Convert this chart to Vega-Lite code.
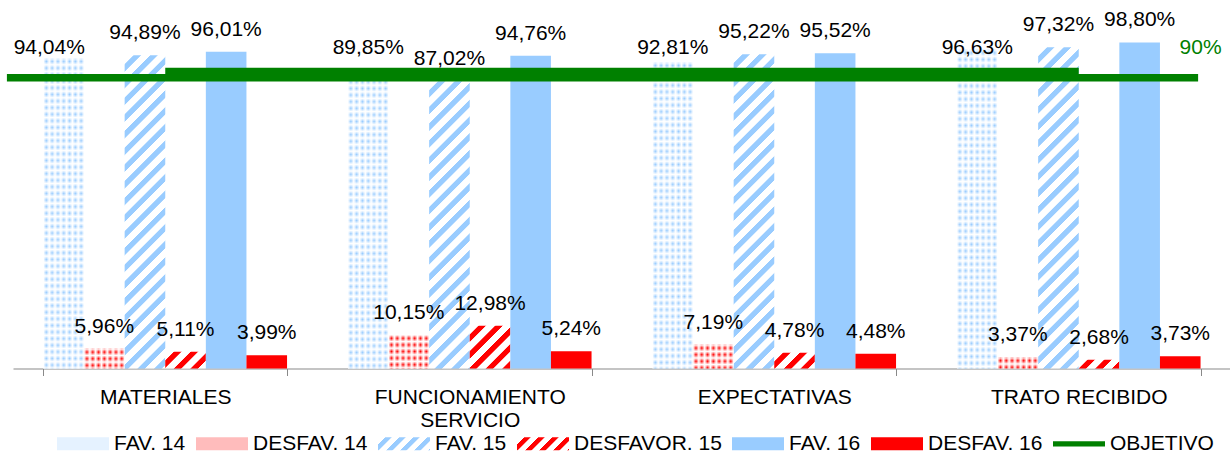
{
  "$schema": "https://vega.github.io/schema/vega-lite/v6.json",
  "width": 1218,
  "height": 330,
  "autosize": {"type": "none"},
  "padding": {"left": 13, "top": 38.5, "right": 0, "bottom": 86.5},
  "background": "white",
  "config": {
    "font": "Liberation Sans",
    "view": {"stroke": null},
    "locale": {"number": {"decimal": ",", "thousands": ".", "grouping": [3], "currency": ["", " €"]}}
  },
  "params": [
    {"name": "hb", "value": [
      {"offset":0,"color":"#ffffff"},{"offset":0.02,"color":"#ffffff"},{"offset":0.022,"color":"#99ccff"},{"offset":0.038,"color":"#99ccff"},
      {"offset":0.04,"color":"#ffffff"},{"offset":0.06,"color":"#ffffff"},{"offset":0.062,"color":"#99ccff"},{"offset":0.078,"color":"#99ccff"},
      {"offset":0.08,"color":"#ffffff"},{"offset":0.1,"color":"#ffffff"},{"offset":0.102,"color":"#99ccff"},{"offset":0.118,"color":"#99ccff"},
      {"offset":0.12,"color":"#ffffff"},{"offset":0.14,"color":"#ffffff"},{"offset":0.142,"color":"#99ccff"},{"offset":0.158,"color":"#99ccff"},
      {"offset":0.16,"color":"#ffffff"},{"offset":0.18,"color":"#ffffff"},{"offset":0.182,"color":"#99ccff"},{"offset":0.198,"color":"#99ccff"},
      {"offset":0.2,"color":"#ffffff"},{"offset":0.22,"color":"#ffffff"},{"offset":0.222,"color":"#99ccff"},{"offset":0.238,"color":"#99ccff"},
      {"offset":0.24,"color":"#ffffff"},{"offset":0.26,"color":"#ffffff"},{"offset":0.262,"color":"#99ccff"},{"offset":0.278,"color":"#99ccff"},
      {"offset":0.28,"color":"#ffffff"},{"offset":0.3,"color":"#ffffff"},{"offset":0.302,"color":"#99ccff"},{"offset":0.318,"color":"#99ccff"},
      {"offset":0.32,"color":"#ffffff"},{"offset":0.34,"color":"#ffffff"},{"offset":0.342,"color":"#99ccff"},{"offset":0.358,"color":"#99ccff"},
      {"offset":0.36,"color":"#ffffff"},{"offset":0.38,"color":"#ffffff"},{"offset":0.382,"color":"#99ccff"},{"offset":0.398,"color":"#99ccff"},
      {"offset":0.4,"color":"#ffffff"},{"offset":0.42,"color":"#ffffff"},{"offset":0.422,"color":"#99ccff"},{"offset":0.438,"color":"#99ccff"},
      {"offset":0.44,"color":"#ffffff"},{"offset":0.46,"color":"#ffffff"},{"offset":0.462,"color":"#99ccff"},{"offset":0.478,"color":"#99ccff"},
      {"offset":0.48,"color":"#ffffff"},{"offset":0.5,"color":"#ffffff"},{"offset":0.502,"color":"#99ccff"},{"offset":0.518,"color":"#99ccff"},
      {"offset":0.52,"color":"#ffffff"},{"offset":0.54,"color":"#ffffff"},{"offset":0.542,"color":"#99ccff"},{"offset":0.558,"color":"#99ccff"},
      {"offset":0.56,"color":"#ffffff"},{"offset":0.58,"color":"#ffffff"},{"offset":0.582,"color":"#99ccff"},{"offset":0.598,"color":"#99ccff"},
      {"offset":0.6,"color":"#ffffff"},{"offset":0.62,"color":"#ffffff"},{"offset":0.622,"color":"#99ccff"},{"offset":0.638,"color":"#99ccff"},
      {"offset":0.64,"color":"#ffffff"},{"offset":0.66,"color":"#ffffff"},{"offset":0.662,"color":"#99ccff"},{"offset":0.678,"color":"#99ccff"},
      {"offset":0.68,"color":"#ffffff"},{"offset":0.7,"color":"#ffffff"},{"offset":0.702,"color":"#99ccff"},{"offset":0.718,"color":"#99ccff"},
      {"offset":0.72,"color":"#ffffff"},{"offset":0.74,"color":"#ffffff"},{"offset":0.742,"color":"#99ccff"},{"offset":0.758,"color":"#99ccff"},
      {"offset":0.76,"color":"#ffffff"},{"offset":0.78,"color":"#ffffff"},{"offset":0.782,"color":"#99ccff"},{"offset":0.798,"color":"#99ccff"},
      {"offset":0.8,"color":"#ffffff"},{"offset":0.82,"color":"#ffffff"},{"offset":0.822,"color":"#99ccff"},{"offset":0.838,"color":"#99ccff"},
      {"offset":0.84,"color":"#ffffff"},{"offset":0.86,"color":"#ffffff"},{"offset":0.862,"color":"#99ccff"},{"offset":0.878,"color":"#99ccff"},
      {"offset":0.88,"color":"#ffffff"},{"offset":0.9,"color":"#ffffff"},{"offset":0.902,"color":"#99ccff"},{"offset":0.918,"color":"#99ccff"},
      {"offset":0.92,"color":"#ffffff"},{"offset":0.94,"color":"#ffffff"},{"offset":0.942,"color":"#99ccff"},{"offset":0.958,"color":"#99ccff"},
      {"offset":0.96,"color":"#ffffff"},{"offset":0.98,"color":"#ffffff"},{"offset":0.982,"color":"#99ccff"},{"offset":0.998,"color":"#99ccff"}
    ]},
    {"name": "hr", "value": [
      {"offset":0,"color":"#ffffff"},{"offset":0.02,"color":"#ffffff"},{"offset":0.022,"color":"#ff0000"},{"offset":0.038,"color":"#ff0000"},
      {"offset":0.04,"color":"#ffffff"},{"offset":0.06,"color":"#ffffff"},{"offset":0.062,"color":"#ff0000"},{"offset":0.078,"color":"#ff0000"},
      {"offset":0.08,"color":"#ffffff"},{"offset":0.1,"color":"#ffffff"},{"offset":0.102,"color":"#ff0000"},{"offset":0.118,"color":"#ff0000"},
      {"offset":0.12,"color":"#ffffff"},{"offset":0.14,"color":"#ffffff"},{"offset":0.142,"color":"#ff0000"},{"offset":0.158,"color":"#ff0000"},
      {"offset":0.16,"color":"#ffffff"},{"offset":0.18,"color":"#ffffff"},{"offset":0.182,"color":"#ff0000"},{"offset":0.198,"color":"#ff0000"},
      {"offset":0.2,"color":"#ffffff"},{"offset":0.22,"color":"#ffffff"},{"offset":0.222,"color":"#ff0000"},{"offset":0.238,"color":"#ff0000"},
      {"offset":0.24,"color":"#ffffff"},{"offset":0.26,"color":"#ffffff"},{"offset":0.262,"color":"#ff0000"},{"offset":0.278,"color":"#ff0000"},
      {"offset":0.28,"color":"#ffffff"},{"offset":0.3,"color":"#ffffff"},{"offset":0.302,"color":"#ff0000"},{"offset":0.318,"color":"#ff0000"},
      {"offset":0.32,"color":"#ffffff"},{"offset":0.34,"color":"#ffffff"},{"offset":0.342,"color":"#ff0000"},{"offset":0.358,"color":"#ff0000"},
      {"offset":0.36,"color":"#ffffff"},{"offset":0.38,"color":"#ffffff"},{"offset":0.382,"color":"#ff0000"},{"offset":0.398,"color":"#ff0000"},
      {"offset":0.4,"color":"#ffffff"},{"offset":0.42,"color":"#ffffff"},{"offset":0.422,"color":"#ff0000"},{"offset":0.438,"color":"#ff0000"},
      {"offset":0.44,"color":"#ffffff"},{"offset":0.46,"color":"#ffffff"},{"offset":0.462,"color":"#ff0000"},{"offset":0.478,"color":"#ff0000"},
      {"offset":0.48,"color":"#ffffff"},{"offset":0.5,"color":"#ffffff"},{"offset":0.502,"color":"#ff0000"},{"offset":0.518,"color":"#ff0000"},
      {"offset":0.52,"color":"#ffffff"},{"offset":0.54,"color":"#ffffff"},{"offset":0.542,"color":"#ff0000"},{"offset":0.558,"color":"#ff0000"},
      {"offset":0.56,"color":"#ffffff"},{"offset":0.58,"color":"#ffffff"},{"offset":0.582,"color":"#ff0000"},{"offset":0.598,"color":"#ff0000"},
      {"offset":0.6,"color":"#ffffff"},{"offset":0.62,"color":"#ffffff"},{"offset":0.622,"color":"#ff0000"},{"offset":0.638,"color":"#ff0000"},
      {"offset":0.64,"color":"#ffffff"},{"offset":0.66,"color":"#ffffff"},{"offset":0.662,"color":"#ff0000"},{"offset":0.678,"color":"#ff0000"},
      {"offset":0.68,"color":"#ffffff"},{"offset":0.7,"color":"#ffffff"},{"offset":0.702,"color":"#ff0000"},{"offset":0.718,"color":"#ff0000"},
      {"offset":0.72,"color":"#ffffff"},{"offset":0.74,"color":"#ffffff"},{"offset":0.742,"color":"#ff0000"},{"offset":0.758,"color":"#ff0000"},
      {"offset":0.76,"color":"#ffffff"},{"offset":0.78,"color":"#ffffff"},{"offset":0.782,"color":"#ff0000"},{"offset":0.798,"color":"#ff0000"},
      {"offset":0.8,"color":"#ffffff"},{"offset":0.82,"color":"#ffffff"},{"offset":0.822,"color":"#ff0000"},{"offset":0.838,"color":"#ff0000"},
      {"offset":0.84,"color":"#ffffff"},{"offset":0.86,"color":"#ffffff"},{"offset":0.862,"color":"#ff0000"},{"offset":0.878,"color":"#ff0000"},
      {"offset":0.88,"color":"#ffffff"},{"offset":0.9,"color":"#ffffff"},{"offset":0.902,"color":"#ff0000"},{"offset":0.918,"color":"#ff0000"},
      {"offset":0.92,"color":"#ffffff"},{"offset":0.94,"color":"#ffffff"},{"offset":0.942,"color":"#ff0000"},{"offset":0.958,"color":"#ff0000"},
      {"offset":0.96,"color":"#ffffff"},{"offset":0.98,"color":"#ffffff"},{"offset":0.982,"color":"#ff0000"},{"offset":0.998,"color":"#ff0000"}
    ]},
    {"name": "db", "value": [
      {"offset":0,"color":"#ffffff"},{"offset":0.0714,"color":"#99ccff"},{"offset":0.1429,"color":"#ffffff"},{"offset":0.2143,"color":"#99ccff"},
      {"offset":0.2857,"color":"#ffffff"},{"offset":0.3571,"color":"#99ccff"},{"offset":0.4286,"color":"#ffffff"},{"offset":0.5,"color":"#99ccff"},
      {"offset":0.5714,"color":"#ffffff"},{"offset":0.6429,"color":"#99ccff"},{"offset":0.7143,"color":"#ffffff"},{"offset":0.7857,"color":"#99ccff"},
      {"offset":0.8571,"color":"#ffffff"},{"offset":0.9286,"color":"#99ccff"},{"offset":1,"color":"#ffffff"}
    ]},
    {"name": "dr", "value": [
      {"offset":0,"color":"#ffffff"},{"offset":0.0714,"color":"#ff0000"},{"offset":0.1429,"color":"#ffffff"},{"offset":0.2143,"color":"#ff0000"},
      {"offset":0.2857,"color":"#ffffff"},{"offset":0.3571,"color":"#ff0000"},{"offset":0.4286,"color":"#ffffff"},{"offset":0.5,"color":"#ff0000"},
      {"offset":0.5714,"color":"#ffffff"},{"offset":0.6429,"color":"#ff0000"},{"offset":0.7143,"color":"#ffffff"},{"offset":0.7857,"color":"#ff0000"},
      {"offset":0.8571,"color":"#ffffff"},{"offset":0.9286,"color":"#ff0000"},{"offset":1,"color":"#ffffff"}
    ]},
    {"name": "ov", "value": [
      {"offset":0,"color":"#ffffff"},{"offset":0.01,"color":"rgba(255,255,255,0)"},{"offset":0.02,"color":"#ffffff"},{"offset":0.03,"color":"rgba(255,255,255,0)"},
      {"offset":0.04,"color":"#ffffff"},{"offset":0.05,"color":"rgba(255,255,255,0)"},{"offset":0.06,"color":"#ffffff"},{"offset":0.07,"color":"rgba(255,255,255,0)"},
      {"offset":0.08,"color":"#ffffff"},{"offset":0.09,"color":"rgba(255,255,255,0)"},{"offset":0.1,"color":"#ffffff"},{"offset":0.11,"color":"rgba(255,255,255,0)"},
      {"offset":0.12,"color":"#ffffff"},{"offset":0.13,"color":"rgba(255,255,255,0)"},{"offset":0.14,"color":"#ffffff"},{"offset":0.15,"color":"rgba(255,255,255,0)"},
      {"offset":0.16,"color":"#ffffff"},{"offset":0.17,"color":"rgba(255,255,255,0)"},{"offset":0.18,"color":"#ffffff"},{"offset":0.19,"color":"rgba(255,255,255,0)"},
      {"offset":0.2,"color":"#ffffff"},{"offset":0.21,"color":"rgba(255,255,255,0)"},{"offset":0.22,"color":"#ffffff"},{"offset":0.23,"color":"rgba(255,255,255,0)"},
      {"offset":0.24,"color":"#ffffff"},{"offset":0.25,"color":"rgba(255,255,255,0)"},{"offset":0.26,"color":"#ffffff"},{"offset":0.27,"color":"rgba(255,255,255,0)"},
      {"offset":0.28,"color":"#ffffff"},{"offset":0.29,"color":"rgba(255,255,255,0)"},{"offset":0.3,"color":"#ffffff"},{"offset":0.31,"color":"rgba(255,255,255,0)"},
      {"offset":0.32,"color":"#ffffff"},{"offset":0.33,"color":"rgba(255,255,255,0)"},{"offset":0.34,"color":"#ffffff"},{"offset":0.35,"color":"rgba(255,255,255,0)"},
      {"offset":0.36,"color":"#ffffff"},{"offset":0.37,"color":"rgba(255,255,255,0)"},{"offset":0.38,"color":"#ffffff"},{"offset":0.39,"color":"rgba(255,255,255,0)"},
      {"offset":0.4,"color":"#ffffff"},{"offset":0.41,"color":"rgba(255,255,255,0)"},{"offset":0.42,"color":"#ffffff"},{"offset":0.43,"color":"rgba(255,255,255,0)"},
      {"offset":0.44,"color":"#ffffff"},{"offset":0.45,"color":"rgba(255,255,255,0)"},{"offset":0.46,"color":"#ffffff"},{"offset":0.47,"color":"rgba(255,255,255,0)"},
      {"offset":0.48,"color":"#ffffff"},{"offset":0.49,"color":"rgba(255,255,255,0)"},{"offset":0.5,"color":"#ffffff"},{"offset":0.51,"color":"rgba(255,255,255,0)"},
      {"offset":0.52,"color":"#ffffff"},{"offset":0.53,"color":"rgba(255,255,255,0)"},{"offset":0.54,"color":"#ffffff"},{"offset":0.55,"color":"rgba(255,255,255,0)"},
      {"offset":0.56,"color":"#ffffff"},{"offset":0.57,"color":"rgba(255,255,255,0)"},{"offset":0.58,"color":"#ffffff"},{"offset":0.59,"color":"rgba(255,255,255,0)"},
      {"offset":0.6,"color":"#ffffff"},{"offset":0.61,"color":"rgba(255,255,255,0)"},{"offset":0.62,"color":"#ffffff"},{"offset":0.63,"color":"rgba(255,255,255,0)"},
      {"offset":0.64,"color":"#ffffff"},{"offset":0.65,"color":"rgba(255,255,255,0)"},{"offset":0.66,"color":"#ffffff"},{"offset":0.67,"color":"rgba(255,255,255,0)"},
      {"offset":0.68,"color":"#ffffff"},{"offset":0.69,"color":"rgba(255,255,255,0)"},{"offset":0.7,"color":"#ffffff"},{"offset":0.71,"color":"rgba(255,255,255,0)"},
      {"offset":0.72,"color":"#ffffff"},{"offset":0.73,"color":"rgba(255,255,255,0)"},{"offset":0.74,"color":"#ffffff"},{"offset":0.75,"color":"rgba(255,255,255,0)"},
      {"offset":0.76,"color":"#ffffff"},{"offset":0.77,"color":"rgba(255,255,255,0)"},{"offset":0.78,"color":"#ffffff"},{"offset":0.79,"color":"rgba(255,255,255,0)"},
      {"offset":0.8,"color":"#ffffff"},{"offset":0.81,"color":"rgba(255,255,255,0)"},{"offset":0.82,"color":"#ffffff"},{"offset":0.83,"color":"rgba(255,255,255,0)"},
      {"offset":0.84,"color":"#ffffff"},{"offset":0.85,"color":"rgba(255,255,255,0)"},{"offset":0.86,"color":"#ffffff"},{"offset":0.87,"color":"rgba(255,255,255,0)"},
      {"offset":0.88,"color":"#ffffff"},{"offset":0.89,"color":"rgba(255,255,255,0)"},{"offset":0.9,"color":"#ffffff"},{"offset":0.91,"color":"rgba(255,255,255,0)"},
      {"offset":0.92,"color":"#ffffff"},{"offset":0.93,"color":"rgba(255,255,255,0)"},{"offset":0.94,"color":"#ffffff"},{"offset":0.95,"color":"rgba(255,255,255,0)"},
      {"offset":0.96,"color":"#ffffff"},{"offset":0.97,"color":"rgba(255,255,255,0)"},{"offset":0.98,"color":"#ffffff"},{"offset":0.99,"color":"rgba(255,255,255,0)"},
      {"offset":1,"color":"#ffffff"}
    ]}
  ],
  "datasets": {
    "barras": [
      {"cat": "MATERIALES", "serie": "FAV. 14", "valor": 0.9404},
      {"cat": "MATERIALES", "serie": "DESFAV. 14", "valor": 0.0596},
      {"cat": "MATERIALES", "serie": "FAV. 15", "valor": 0.9489},
      {"cat": "MATERIALES", "serie": "DESFAVOR. 15", "valor": 0.0511},
      {"cat": "MATERIALES", "serie": "FAV. 16", "valor": 0.9601},
      {"cat": "MATERIALES", "serie": "DESFAV. 16", "valor": 0.0399},
      {"cat": "FUNCIONAMIENTO SERVICIO", "serie": "FAV. 14", "valor": 0.8985},
      {"cat": "FUNCIONAMIENTO SERVICIO", "serie": "DESFAV. 14", "valor": 0.1015},
      {"cat": "FUNCIONAMIENTO SERVICIO", "serie": "FAV. 15", "valor": 0.8702},
      {"cat": "FUNCIONAMIENTO SERVICIO", "serie": "DESFAVOR. 15", "valor": 0.1298},
      {"cat": "FUNCIONAMIENTO SERVICIO", "serie": "FAV. 16", "valor": 0.9476},
      {"cat": "FUNCIONAMIENTO SERVICIO", "serie": "DESFAV. 16", "valor": 0.0524},
      {"cat": "EXPECTATIVAS", "serie": "FAV. 14", "valor": 0.9281},
      {"cat": "EXPECTATIVAS", "serie": "DESFAV. 14", "valor": 0.0719},
      {"cat": "EXPECTATIVAS", "serie": "FAV. 15", "valor": 0.9522},
      {"cat": "EXPECTATIVAS", "serie": "DESFAVOR. 15", "valor": 0.0478},
      {"cat": "EXPECTATIVAS", "serie": "FAV. 16", "valor": 0.9552},
      {"cat": "EXPECTATIVAS", "serie": "DESFAV. 16", "valor": 0.0448},
      {"cat": "TRATO RECIBIDO", "serie": "FAV. 14", "valor": 0.9663},
      {"cat": "TRATO RECIBIDO", "serie": "DESFAV. 14", "valor": 0.0337},
      {"cat": "TRATO RECIBIDO", "serie": "FAV. 15", "valor": 0.9732},
      {"cat": "TRATO RECIBIDO", "serie": "DESFAVOR. 15", "valor": 0.0268},
      {"cat": "TRATO RECIBIDO", "serie": "FAV. 16", "valor": 0.9880},
      {"cat": "TRATO RECIBIDO", "serie": "DESFAV. 16", "valor": 0.0373}
    ],
    "objetivo": [
      {"cat": "MATERIALES", "serie": "OBJETIVO", "valor": 0.9},
      {"cat": "FUNCIONAMIENTO SERVICIO", "serie": "OBJETIVO", "valor": 0.9},
      {"cat": "EXPECTATIVAS", "serie": "OBJETIVO", "valor": 0.9},
      {"cat": "TRATO RECIBIDO", "serie": "OBJETIVO", "valor": 0.9}
    ],
    "regla": [
      {"valor": 0.881, "etiqueta": "90%"}
    ]
  },
  "layer": [
    {
      "data": {"name": "barras"},
      "mark": {
        "type": "bar",
        "fill": {"expr": "datum.serie === 'FAV. 15' || datum.serie === 'DESFAVOR. 15' ? {gradient: 'linear', x1: 0, y1: 0, x2: 417.5 * 40.6 / (1648.36 + pow(datum.valor * 330, 2)), y2: 417.5 * datum.valor * 330 / (1648.36 + pow(datum.valor * 330, 2)), stops: datum.serie === 'FAV. 15' ? hb : hr} : datum.serie === 'FAV. 14' ? {gradient: 'linear', x1: 0, y1: 0, x2: 1, y2: 0, stops: db} : datum.serie === 'DESFAV. 14' ? {gradient: 'linear', x1: 0, y1: 0, x2: 1, y2: 0, stops: dr} : datum.serie === 'FAV. 16' ? '#99ccff' : '#ff0000'"}
      },
      "encoding": {
        "x": {
          "field": "cat", "type": "nominal", "title": null,
          "scale": {"domain": ["MATERIALES", "FUNCIONAMIENTO SERVICIO", "EXPECTATIVAS", "TRATO RECIBIDO"], "paddingInner": 0.2, "paddingOuter": 0.1},
          "axis": {
            "tickBand": "extent", "tickSize": 7, "tickColor": "#898989", "domainColor": "#898989",
            "labelFont": "Liberation Sans", "labelFontSize": 21, "labelColor": "#000000", "labelAngle": 0,
            "labelPadding": 11, "labelLineHeight": 22.5, "labelLimit": 0, "grid": false,
            "labelExpr": "datum.label === 'FUNCIONAMIENTO SERVICIO' ? ['FUNCIONAMIENTO', 'SERVICIO'] : datum.label"
          }
        },
        "xOffset": {
          "field": "serie", "type": "nominal",
          "scale": {"domain": ["FAV. 14", "DESFAV. 14", "FAV. 15", "DESFAVOR. 15", "FAV. 16", "DESFAV. 16"], "paddingInner": 0, "paddingOuter": 0}
        },
        "y": {"field": "valor", "type": "quantitative", "scale": {"domain": [0, 1], "nice": false}, "axis": null}
      }
    },
    {
      "data": {"name": "barras"},
      "transform": [{"filter": "datum.serie === 'FAV. 14' || datum.serie === 'DESFAV. 14'"}],
      "mark": {
        "type": "bar",
        "fill": {"expr": "{gradient: 'linear', x1: 0, y1: 0, x2: 0, y2: 1 / datum.valor, stops: ov}"}
      },
      "encoding": {
        "x": {"field": "cat", "type": "nominal", "title": null},
        "xOffset": {"field": "serie", "type": "nominal"},
        "y": {"field": "valor", "type": "quantitative", "axis": null}
      }
    },
    {
      "data": {"name": "barras"},
      "mark": {"type": "point", "filled": true, "opacity": 0, "size": 1},
      "encoding": {
        "x": {"field": "cat", "type": "nominal", "title": null},
        "y": {"field": "valor", "type": "quantitative", "axis": null},
        "fill": {
          "field": "serie", "type": "nominal",
          "scale": {
            "domain": ["FAV. 14", "DESFAV. 14", "FAV. 15", "DESFAVOR. 15", "FAV. 16", "DESFAV. 16", "OBJETIVO"],
            "range": ["#e5f2ff", "#ffbcbc",
              {"expr": "{gradient: 'linear', x1: 0, y1: 0, x2: 6.335, y2: 1.584, stops: hb}"},
              {"expr": "{gradient: 'linear', x1: 0, y1: 0, x2: 6.335, y2: 1.584, stops: hr}"},
              "#99ccff", "#ff0000", "#008000"]
          },
          "legend": {
            "title": null, "orient": "none", "legendX": 44, "legendY": 379.3, "direction": "horizontal", "columns": 7,
            "symbolSize": 2704, "symbolStrokeWidth": 0, "symbolOpacity": 1,
            "labelFont": "Liberation Sans", "labelFontSize": 21, "labelColor": "#000000", "labelOffset": 5, "columnPadding": 10, "labelLimit": 0
          }
        },
        "shape": {
          "field": "serie", "type": "nominal",
          "scale": {
            "domain": ["FAV. 14", "DESFAV. 14", "FAV. 15", "DESFAVOR. 15", "FAV. 16", "DESFAV. 16", "OBJETIVO"],
            "range": ["M-1,-0.25H1V0.25H-1Z", "M-1,-0.25H1V0.25H-1Z", "M-1,-0.25H1V0.25H-1Z", "M-1,-0.25H1V0.25H-1Z", "M-1,-0.25H1V0.25H-1Z", "M-1,-0.25H1V0.25H-1Z", "M-1,-0.1H1V0.1H-1Z"]
          },
          "legend": {
            "title": null, "orient": "none", "legendX": 44, "legendY": 379.3, "direction": "horizontal", "columns": 7,
            "symbolSize": 2704, "symbolStrokeWidth": 0, "symbolOpacity": 1,
            "labelFont": "Liberation Sans", "labelFontSize": 21, "labelColor": "#000000", "labelOffset": 5, "columnPadding": 10, "labelLimit": 0
          }
        }
      }
    },
    {
      "data": {"name": "regla"},
      "mark": {"type": "rule", "strokeWidth": 7.5, "color": "#008000", "strokeCap": "butt"},
      "encoding": {
        "x": {"datum": "MATERIALES", "bandPosition": -0.15, "title": null},
        "x2": {"datum": "TRATO RECIBIDO", "bandPosition": 0.99},
        "y": {"field": "valor", "type": "quantitative", "axis": null}
      }
    },
    {
      "data": {"name": "objetivo"},
      "mark": {"type": "line", "strokeWidth": 7.5, "strokeCap": "butt", "color": "#008000"},
      "encoding": {
        "x": {"field": "cat", "type": "nominal", "title": null},
        "y": {"field": "valor", "type": "quantitative", "axis": null}
      }
    },
    {
      "data": {"name": "barras"},
      "mark": {
        "type": "text", "fontSize": 21, "fill": "#000000", "align": "center", "baseline": "alphabetic",
        "dx": {"expr": "datum.cat === 'MATERIALES' && datum.serie === 'FAV. 14' ? -14.5 : 0"},
        "dy": {"expr": "datum.serie === 'FAV. 14' ? 330 * datum.valor - 315 : -16"}
      },
      "encoding": {
        "x": {"field": "cat", "type": "nominal", "title": null},
        "xOffset": {"field": "serie", "type": "nominal"},
        "y": {"field": "valor", "type": "quantitative", "axis": null},
        "text": {"field": "valor", "type": "quantitative", "format": ".2%"}
      }
    },
    {
      "data": {"name": "regla"},
      "mark": {"type": "text", "fontSize": 21, "fill": "#008000", "align": "center", "baseline": "alphabetic", "dy": -24},
      "encoding": {
        "x": {"datum": "TRATO RECIBIDO", "bandPosition": 1, "title": null},
        "y": {"field": "valor", "type": "quantitative", "axis": null},
        "text": {"field": "etiqueta", "type": "nominal"}
      }
    }
  ]
}
